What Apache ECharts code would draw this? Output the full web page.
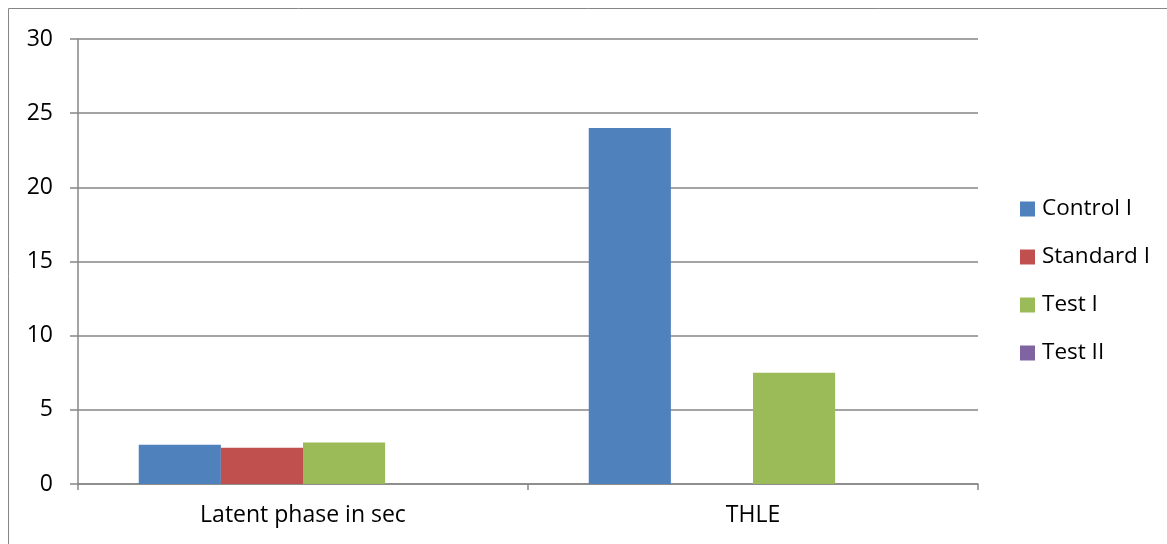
<!DOCTYPE html>
<html>
<head>
<meta charset="utf-8">
<script src="https://cdn.jsdelivr.net/npm/echarts@6/dist/echarts.min.js"></script>
<style>
  html, body { margin: 0; padding: 0; background: #fff; }
  #chart { width: 1167px; height: 544px; }
</style>
</head>
<body>
<div id="chart"></div>
<script>
// Categories and series values
const categories = ['Latent phase in sec', 'THLE'];
const seriesNames = ['Control I', 'Standard I', 'Test I', 'Test II'];
const controlI = [2.65, 24];
const standardI = [2.45, 0];
const testI = [2.8, 7.5];
const testII = [0, 0];
const yTicks = { min: 0, max: 30, interval: 5 };

const colors = ['#4F81BD', '#C0504D', '#9BBB59', '#8064A2'];
const values = [controlI, standardI, testI, testII];
const fontFamily = '"Open Sans", "Liberation Sans", sans-serif';
const axisGray = '#868686';

const chart = echarts.init(document.getElementById('chart'));

chart.setOption({
  animation: false,
  backgroundColor: '#fff',
  color: colors,
  graphic: [{
    type: 'rect',
    shape: { x: 8.5, y: 8.5, width: 1300, height: 700 },
    style: { fill: 'none', stroke: axisGray, lineWidth: 1 },
    silent: true,
    z: -1
  }],
  grid: { left: 78, right: 189, top: 39, bottom: 60, containLabel: false },
  legend: {
    orient: 'vertical',
    left: 1015,
    top: 192,
    padding: 5,
    itemWidth: 15,
    itemHeight: 15,
    itemGap: 24,
    icon: 'rect',
    data: seriesNames,
    textStyle: { fontFamily, fontSize: 22.5, color: '#000', lineHeight: 24, padding: [0, 0, 0, 2] }
  },
  xAxis: {
    type: 'category',
    data: categories,
    boundaryGap: true,
    axisLine: { lineStyle: { color: axisGray, width: 1.5 } },
    axisTick: { show: true, length: 6, alignWithLabel: false, lineStyle: { color: axisGray, width: 1.5 } },
    axisLabel: { fontFamily, fontSize: 23, color: '#000', margin: 20 },
    splitLine: { show: false }
  },
  yAxis: {
    type: 'value',
    min: yTicks.min,
    max: yTicks.max,
    interval: yTicks.interval,
    axisLine: { show: true, lineStyle: { color: axisGray, width: 1.5 } },
    axisTick: { show: true, length: 8, lineStyle: { color: axisGray, width: 1.5 } },
    axisLabel: { fontFamily, fontSize: 23, color: '#000', margin: 25 },
    splitLine: { show: true, lineStyle: { color: axisGray, width: 1.5 } }
  },
  series: seriesNames.map((name, i) => ({
    name,
    type: 'bar',
    data: values[i],
    barGap: '0%',
    barCategoryGap: '27%',
    itemStyle: { color: colors[i] }
  }))
});
</script>
</body>
</html>
